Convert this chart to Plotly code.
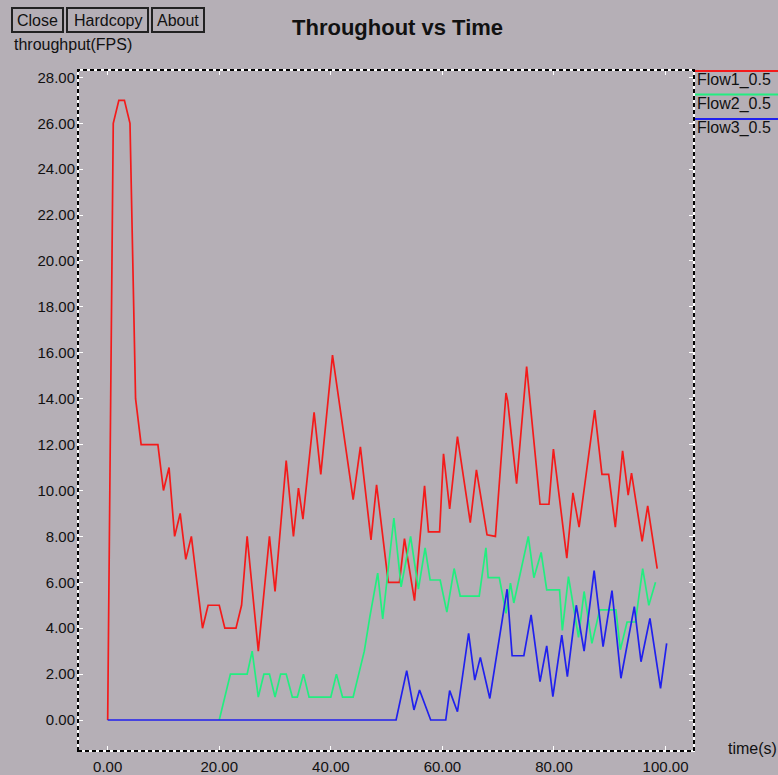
import plotly.graph_objects as go

# Throughput samples (time in seconds, throughput in FPS)
flow1_t = [0, 1, 2, 3, 4, 5, 6, 9, 10, 11, 12, 13, 14, 15, 17, 18, 20, 21, 23, 24,
           25, 27, 29, 30, 32, 33.3, 34.2, 35, 37, 38.2, 40.3, 44, 45.3, 47.2, 48.2,
           50.3, 52.3, 53.2, 55, 56.8, 57.5, 59.5, 60.2, 61.3, 62.7, 65, 66.1, 68,
           69.5, 71.4, 71.7, 73.3, 75.1, 77.5, 79.1, 79.9, 82.3, 83.4, 84.5, 87.3,
           88.6, 89.8, 91, 92.3, 93.3, 93.9, 95.8, 96.8, 98.5]
flow1_v = [0, 26, 27, 27, 26, 14, 12, 12, 10, 11, 8, 9, 7, 8, 4, 5, 5, 4, 4, 5,
           8, 3, 8, 5.6, 11.3, 8, 10.1, 8.75, 13.4, 10.7, 15.9, 9.6, 11.9, 7.85, 10.25,
           6, 6, 7.9, 5.2, 10.2, 8.2, 8.2, 11.6, 9.2, 12.35, 8.6, 10.9, 8.07,
           8.0, 14.25, 13.9, 10.3, 15.4, 9.4, 9.4, 11.8, 7.05, 9.9, 8.4, 13.5,
           10.7, 10.7, 8.4, 11.73, 9.8, 10.76, 7.78, 9.33, 6.6]

flow2_t = [20, 22, 25, 25.9, 27, 28, 29, 30, 31, 32, 33.1, 34, 35.1, 36.1, 40, 41,
           42.1, 44, 45, 46, 47, 48.4, 49.3, 51.3, 52.6, 54.3, 55.7, 56.9, 57.8,
           59.6, 60.8, 62.1, 63.2, 66.6, 67.8, 68.2, 70.2, 71.4, 72.2, 72.8, 75.4,
           76.4, 77.7, 78.7, 81, 81.5, 82.6, 84.4, 85.4, 86.8, 88.2, 91.1, 91.9,
           93.1, 94.6, 95.9, 97, 98.2]
flow2_v = [0, 2, 2, 3, 1, 2, 2, 1, 2, 2, 1, 1, 2, 1, 1, 2,
           1, 1, 2, 3, 4.5, 6.4, 4.4, 8.8, 5.8, 8, 5.7, 7.5, 6.1,
           6.1, 4.7, 6.6, 5.4, 5.4, 7.5, 6.2, 6.2, 4.65, 5.96, 5.1, 8,
           6.2, 7.3, 5.67, 5.67, 3.9, 6.25, 3.6, 5.6, 3.34, 4.8, 4.8, 3.06,
           4.27, 4.27, 6.6, 5.0, 6.0]

flow3_t = [0, 51.7, 53.6, 54.9, 55.9, 57.9, 60.6, 61.3, 62.7, 64.7, 65.8, 66.8,
           68.5, 71.6, 72.5, 74.6, 75.9, 77.5, 78.7, 79.8, 81.4, 82.4, 84.0, 85.4,
           87.2, 88.8, 90.4, 92.0, 94.4, 95.6, 97.2, 99.1, 100.2]
flow3_v = [0, 0, 2.15, 0.44, 1.31, 0, 0, 1.28, 0.36, 3.78, 1.74, 2.73,
           0.94, 5.7, 2.8, 2.8, 4.58, 1.67, 3.23, 1.02, 3.7, 1.89, 5.0, 3.0,
           6.51, 3.2, 5.64, 1.82, 4.94, 2.54, 4.43, 1.38, 3.34]

series_names = ["Flow1_0.5", "Flow2_0.5", "Flow3_0.5"]
series_colors = ["#f41a1a", "#22ee80", "#2020ee"]

x_ticks = [0, 20, 40, 60, 80, 100]
y_ticks = list(range(0, 30, 2))

BG = "#b5afb6"
FONT = "Liberation Sans"
INK = "#111111"

fig = go.Figure()
for t, v, name, col in zip([flow1_t, flow2_t, flow3_t],
                           [flow1_v, flow2_v, flow3_v],
                           series_names, series_colors):
    fig.add_trace(go.Scatter(x=t, y=v, mode="lines", name=name,
                             line=dict(color=col, width=1.7), showlegend=False))

W, H = 778, 775
L, R, T, B = 78, 84, 70, 24
PW, PH = W - L - R, H - T - B

fig.update_layout(
    width=W, height=H,
    margin=dict(l=L, r=R, t=T, b=B, autoexpand=False),
    paper_bgcolor=BG, plot_bgcolor=BG,
    font=dict(family=FONT, size=15, color=INK),
    xaxis=dict(range=[-5.32, 105.1], tickvals=x_ticks, tickformat=".2f",
               showgrid=False, zeroline=False, showline=False, automargin=False,
               ticks="inside", ticklen=5, tickcolor="white", tickwidth=1,
               mirror="ticks", ticklabelstandoff=5,
               tickfont=dict(family=FONT, size=15, color=INK)),
    yaxis=dict(range=[-1.35, 28.32], tickvals=y_ticks, tickformat=".2f",
               showgrid=False, zeroline=False, showline=False, automargin=False,
               ticks="inside", ticklen=5, tickcolor="white", tickwidth=1,
               mirror="ticks", ticklabelstandoff=2,
               tickfont=dict(family=FONT, size=15, color=INK)),
)


def fx(p):
    """pixel column -> paper x"""
    return (p - L) / PW


def fy(p):
    """pixel row -> paper y"""
    return (H - B - p) / PH


shapes = []
# dotted frame around the plotting area
shapes.append(dict(type="rect", xref="paper", yref="paper", x0=0, x1=1, y0=0, y1=1,
                   line=dict(color="white", width=2), layer="below"))
shapes.append(dict(type="rect", xref="paper", yref="paper", x0=0, x1=1, y0=0, y1=1,
                   line=dict(color="black", width=2, dash="4px,3px")))

# buttons
buttons = [("Close", 12, 63), ("Hardcopy", 67, 148), ("About", 152, 204)]
annotations = []
for label, x0, x1 in buttons:
    shapes.append(dict(type="rect", xref="paper", yref="paper",
                       x0=fx(x0), x1=fx(x1), y0=fy(32), y1=fy(8),
                       line=dict(color="#222222", width=2), fillcolor=BG))
    annotations.append(dict(text=label, xref="paper", yref="paper",
                            x=fx((x0 + x1) / 2), y=fy(20),
                            showarrow=False, xanchor="center", yanchor="middle",
                            font=dict(family=FONT, size=16, color=INK)))

# legend entries on the right
legend_y = [71, 94.5, 119]
for name, col, ly in zip(series_names, series_colors, legend_y):
    shapes.append(dict(type="line", xref="paper", yref="paper",
                       x0=fx(695), x1=fx(778), y0=fy(ly), y1=fy(ly),
                       line=dict(color=col, width=2)))
    annotations.append(dict(text=name, xref="paper", yref="paper",
                            x=fx(695), y=fy(ly + 9),
                            showarrow=False, xanchor="left", yanchor="middle",
                            font=dict(family=FONT, size=16, color=INK)))

# title and axis captions
annotations.append(dict(text="<b>Throughout vs Time</b>", xref="paper", yref="paper",
                        x=fx(397), y=fy(28),
                        showarrow=False, xanchor="center", yanchor="middle",
                        font=dict(family=FONT, size=22, color=INK)))
annotations.append(dict(text="throughput(FPS)", xref="paper", yref="paper",
                        x=fx(12), y=fy(45),
                        showarrow=False, xanchor="left", yanchor="middle",
                        font=dict(family=FONT, size=16, color=INK)))
annotations.append(dict(text="time(s)", xref="paper", yref="paper",
                        x=fx(779), y=fy(748),
                        showarrow=False, xanchor="right", yanchor="middle",
                        font=dict(family=FONT, size=16, color=INK)))

fig.update_layout(shapes=shapes, annotations=annotations)
fig.write_html("out.html")
